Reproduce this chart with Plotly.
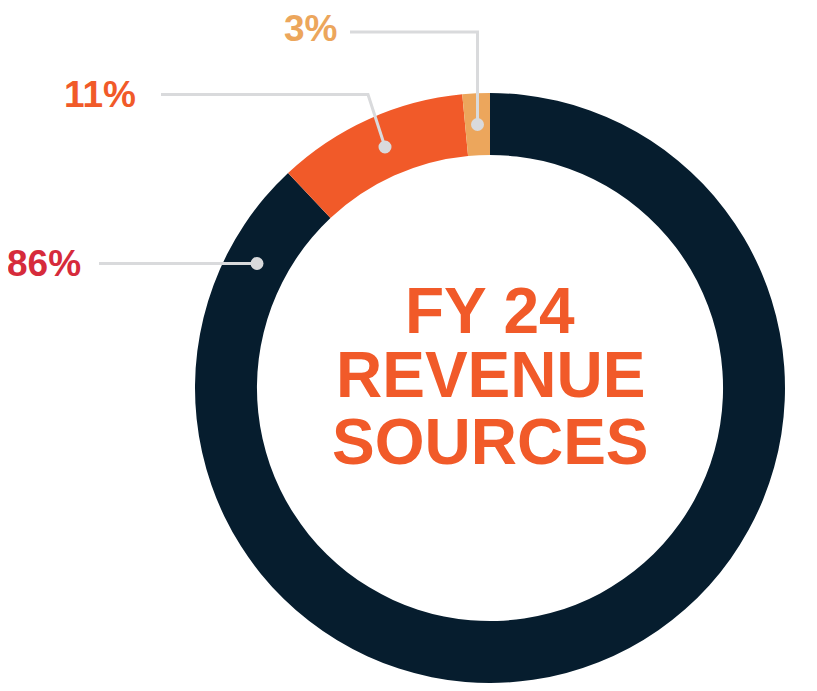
import plotly.graph_objects as go

# data
sources = ["Source A", "Source B", "Source C"]
pct_labels = ["86%", "11%", "3%"]
# arc shares as drawn in the reference ring
arc_share = [88.0, 10.5, 1.5]
colors = ["#061d2e", "#f15a29", "#eca65c"]
label_colors = ["#d62b3b", "#f15a29", "#eca65c"]

# page has an 8px body margin, so the figure is drawn smaller and offset
OFF = 8
W, H = 817 - 2 * OFF, 691 - 2 * OFF


def px(x):
    return (x - OFF) / W


def py(y):
    return 1 - (y - OFF) / H


cx, cy, r = 490, 388, 295

fig = go.Figure(go.Pie(
    labels=sources,
    values=arc_share,
    marker=dict(colors=colors, line=dict(width=0)),
    hole=0.79,
    sort=False,
    direction="clockwise",
    rotation=0,
    textinfo="none",
    hoverinfo="skip",
    showlegend=False,
    domain=dict(x=[px(cx - r), px(cx + r)], y=[py(cy + r), py(cy - r)]),
))

line_col = "#d9dadc"
# leader lines: label end -> elbow -> dot
leaders = [
    [(99, 263.5), (257, 263.5)],
    [(161, 94.5), (368, 94.5), (385, 147)],
    [(350, 32), (477.5, 32), (477.5, 124.5)],
]
shapes = []
for pts in leaders:
    path = "M " + " L ".join(f"{px(x)},{py(y)}" for x, y in pts)
    shapes.append(dict(type="path", path=path, xref="paper", yref="paper",
                       line=dict(color=line_col, width=3)))
    dx, dy = pts[-1]
    shapes.append(dict(type="circle", xref="paper", yref="paper",
                       x0=px(dx - 6.5), x1=px(dx + 6.5),
                       y0=py(dy + 6.5), y1=py(dy - 6.5),
                       fillcolor=line_col, line=dict(width=0)))

label_pos = [(44, 264), (100, 94), (310, 29)]
annotations = []
for txt, col, (x, y) in zip(pct_labels, label_colors, label_pos):
    annotations.append(dict(
        text=txt, x=px(x), y=py(y), xref="paper", yref="paper",
        xanchor="center", yanchor="middle", showarrow=False,
        font=dict(family="Liberation Sans", size=37, color=col, weight="bold"),
    ))

center_lines = ["FY 24", "REVENUE", "SOURCES"]
center_y = [310.5, 375.5, 442]
for txt, y in zip(center_lines, center_y):
    annotations.append(dict(
        text=txt, x=px(cx), y=py(y), xref="paper", yref="paper",
        xanchor="center", yanchor="middle", showarrow=False,
        font=dict(family="Liberation Sans", size=64, color="#f15a29", weight="bold"),
    ))

fig.update_layout(
    width=W, height=H,
    margin=dict(l=0, r=0, t=0, b=0),
    paper_bgcolor="white",
    plot_bgcolor="white",
    shapes=shapes,
    annotations=annotations,
)

fig.write_html("out.html")
